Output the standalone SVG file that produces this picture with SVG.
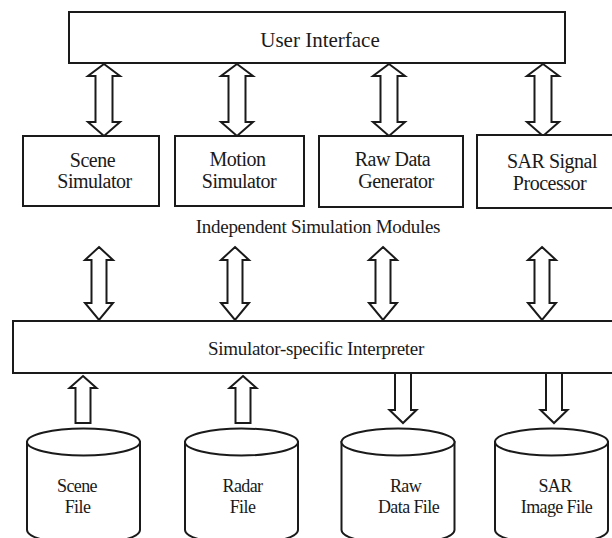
<svg xmlns="http://www.w3.org/2000/svg" xmlns:xlink="http://www.w3.org/1999/xlink" width="612" height="538" viewBox="0 0 612 538">
  <style>
    .box { fill: #ffffff; stroke: #1a1a1a; stroke-width: 2; }
    .arrow { fill: #ffffff; stroke: #1a1a1a; stroke-width: 2; stroke-linejoin: miter; }
    .cyl { fill: #ffffff; stroke: #1a1a1a; stroke-width: 2; }
    text { font-family: "Liberation Serif", "Times New Roman", serif; fill: #1a1a1a; text-anchor: middle; }
    .lbl { font-size: 20px; letter-spacing: -0.5px; }
    .big { font-size: 21px; }
    .cap { font-size: 18px; letter-spacing: -0.6px; }
    .wide { font-size: 19px; letter-spacing: -0.3px; }
  </style>
  <defs>
    <!-- double-headed hollow arrows, centred on x = 0 -->
    <path id="dblTop" d="M0,64 L16,76 L8.5,76 L8.5,122 L16,122 L0,136 L-16,122 L-8.5,122 L-8.5,76 L-16,76 Z"/>
    <path id="dblMid" d="M0,247 L14,260 L7.5,260 L7.5,303 L14,303 L0,320 L-14,303 L-7.5,303 L-7.5,260 L-14,260 Z"/>
    <!-- single hollow arrows -->
    <path id="upArr" d="M0,376 L13.5,388 L7.5,388 L7.5,423 L-7.5,423 L-7.5,388 L-13.5,388 Z"/>
    <path id="downArr" d="M-8,373 L8,373 L8,410 L13.5,410 L0,423 L-13.5,410 L-8,410 Z"/>
    <!-- database cylinder body, centred on x = 0 -->
    <g id="cylinder">
      <path class="cyl" d="M-56.5,442 L-56.5,530 A56.5,14 0 0 0 56.5,530 L56.5,442 Z"/>
      <ellipse class="cyl" cx="0" cy="442" rx="56.5" ry="13.5"/>
    </g>
  </defs>

  <!-- connectors -->
  <g id="connectors" class="arrow">
    <use xlink:href="#dblTop" x="104"/>
    <use xlink:href="#dblTop" x="237"/>
    <use xlink:href="#dblTop" x="389"/>
    <use xlink:href="#dblTop" x="543"/>
    <use xlink:href="#dblMid" x="99"/>
    <use xlink:href="#dblMid" x="235"/>
    <use xlink:href="#dblMid" x="383"/>
    <use xlink:href="#dblMid" x="542"/>
    <use xlink:href="#upArr" x="83"/>
    <use xlink:href="#upArr" x="243"/>
    <use xlink:href="#downArr" x="403"/>
    <use xlink:href="#downArr" x="554"/>
  </g>

  <g id="user-interface">
    <rect class="box" x="69" y="12" width="496" height="51"/>
    <text class="big" x="320" y="47">User Interface</text>
  </g>

  <g id="scene-simulator">
    <rect class="box" x="23" y="136" width="136" height="70"/>
    <text class="lbl" x="92.5" y="167">Scene</text>
    <text class="lbl" x="94.5" y="188">Simulator</text>
  </g>

  <g id="motion-simulator">
    <rect class="box" x="175" y="136" width="129" height="70"/>
    <text class="lbl" x="237.5" y="166">Motion</text>
    <text class="lbl" x="239" y="188">Simulator</text>
  </g>

  <g id="raw-data-generator">
    <rect class="box" x="319" y="136" width="144" height="71"/>
    <text class="lbl" x="392.5" y="166">Raw Data</text>
    <text class="lbl" x="396" y="188">Generator</text>
  </g>

  <g id="sar-signal-processor">
    <rect class="box" x="477" y="135" width="145" height="73"/>
    <text class="lbl" x="552" y="168">SAR Signal</text>
    <text class="lbl" x="549.5" y="190">Processor</text>
  </g>

  <g id="modules-caption">
    <text class="wide" x="318" y="233">Independent Simulation Modules</text>
  </g>

  <g id="interpreter">
    <rect class="box" x="13" y="321" width="610" height="52"/>
    <text class="wide" x="316" y="355">Simulator-specific Interpreter</text>
  </g>

  <g id="scene-file">
    <use xlink:href="#cylinder" x="83.5"/>
    <text class="cap" x="77" y="492">Scene</text>
    <text class="cap" x="77.5" y="513">File</text>
  </g>

  <g id="radar-file">
    <use xlink:href="#cylinder" x="241.5"/>
    <text class="cap" x="242.5" y="492">Radar</text>
    <text class="cap" x="242.5" y="513">File</text>
  </g>

  <g id="raw-data-file">
    <use xlink:href="#cylinder" x="398"/>
    <text class="cap" x="405.5" y="492">Raw</text>
    <text class="cap" x="408.5" y="513">Data File</text>
  </g>

  <g id="sar-image-file">
    <use xlink:href="#cylinder" x="551.5"/>
    <text class="cap" x="555" y="492">SAR</text>
    <text class="cap" x="556.5" y="513">Image File</text>
  </g>
</svg>
